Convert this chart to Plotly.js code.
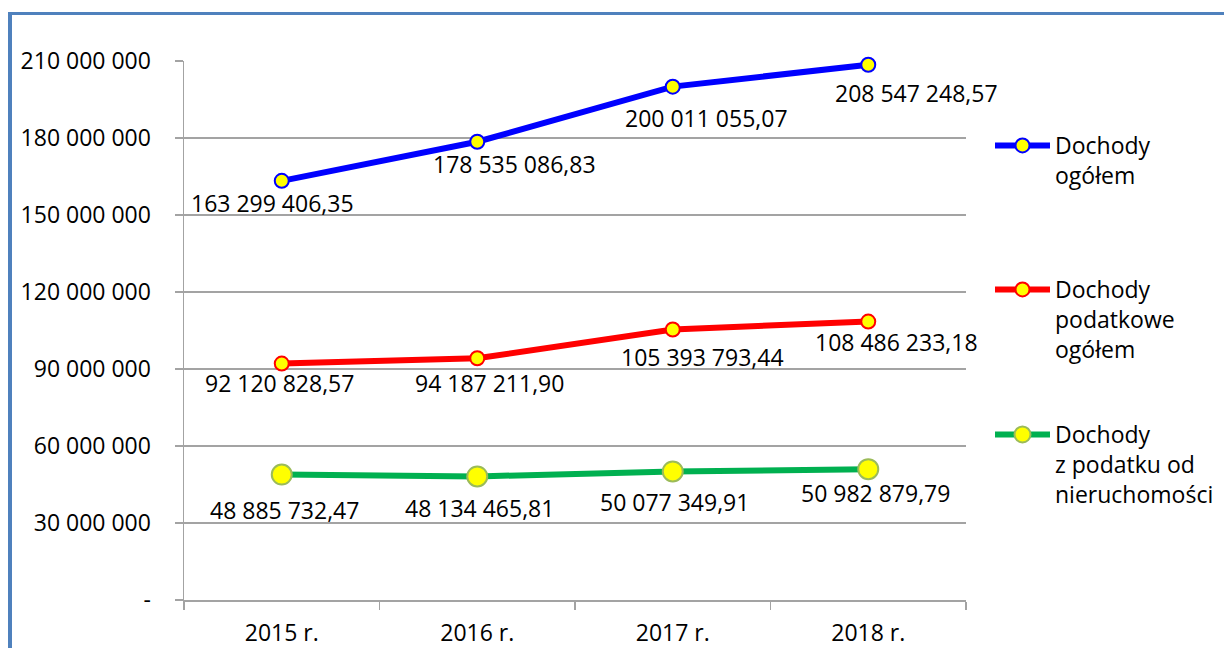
<!DOCTYPE html>
<html>
<head>
<meta charset="utf-8">
<script src="https://cdn.plot.ly/plotly-3.0.1.min.js"></script>
<style>
  html, body { margin: 0; padding: 0; background: #fff; }
  #wrap { position: relative; width: 1224px; height: 648px; overflow: hidden; }
  #chart { position: absolute; left: 0; top: 0; width: 1224px; height: 648px; }
  #frame { position: absolute; left: 8px; top: 12px; right: -10px; bottom: -10px;
           border-left: 4px solid #4F81BD; border-top: 3px solid #4F81BD; pointer-events: none; }
</style>
</head>
<body>
<div id="wrap">
  <div id="chart"></div>
  <div id="frame"></div>
</div>
<script>
// ---- data ----
const years = ["2015 r.", "2016 r.", "2017 r.", "2018 r."];
const dochodyOgolem = [163299406.35, 178535086.83, 200011055.07, 208547248.57];
const dochodyPodatkowe = [92120828.57, 94187211.90, 105393793.44, 108486233.18];
const dochodyNieruchomosci = [48885732.47, 48134465.81, 50077349.91, 50982879.79];
const seriesNames = ["Dochody<br>ogółem", "Dochody<br>podatkowe<br>ogółem", "Dochody<br>z podatku od<br>nieruchomości"];
const yTickVals = [0, 30000000, 60000000, 90000000, 120000000, 150000000, 180000000, 210000000];
const yTickText = ["-", "30 000 000", "60 000 000", "90 000 000", "120 000 000", "150 000 000", "180 000 000", "210 000 000"];

// ---- label offsets (px, styling only) ----
const offBlue  = [[-9, -22], [37, -22], [34, -31], [48, -28]];
const offRed   = [[-2, -19], [12, -25], [30, -28], [28, -20]];
const offGreen = [[3, -35], [2, -32], [2, -31], [7, -24]];

const FONT = "'Open Sans', 'Noto Sans', sans-serif";
const FS = 23;
const GRID = "#A3A3A3";

function fmtPL(v) {
  const s = v.toFixed(2).split(".");
  const intPart = s[0].replace(/\B(?=(\d{3})+(?!\d))/g, " ");
  return intPart + "," + s[1];
}

function mkTrace(vals, name, color, msize, mline, legendId) {
  return {
    x: years, y: vals, name: name, type: "scatter", mode: "lines+markers",
    line: { color: color, width: 6 },
    marker: { size: msize, color: "#FFFF00", line: { color: mline, width: 2 } },
    legend: legendId, hoverinfo: "skip", cliponaxis: false
  };
}

const traces = [
  mkTrace(dochodyOgolem, seriesNames[0], "#0000FF", 14, "#0000FF", "legend"),
  mkTrace(dochodyPodatkowe, seriesNames[1], "#FF0000", 14, "#FF0000", "legend2"),
  mkTrace(dochodyNieruchomosci, seriesNames[2], "#00B050", 20, "#9BBB59", "legend3")
];

const annotations = [];
[[dochodyOgolem, offBlue], [dochodyPodatkowe, offRed], [dochodyNieruchomosci, offGreen]].forEach(([vals, offs]) => {
  vals.forEach((v, i) => {
    annotations.push({
      x: years[i], y: v, xref: "x", yref: "y", text: fmtPL(v), showarrow: false,
      xshift: offs[i][0], yshift: offs[i][1],
      font: { family: FONT, size: FS, color: "#000" }
    });
  });
});

function legendCfg(y) {
  return {
    x: (990 - 184) / 782, xanchor: "left", y: y, yanchor: "top",
    font: { family: FONT, size: FS, color: "#000" },
    bgcolor: "rgba(0,0,0,0)", borderwidth: 0, valign: "top",
    itemwidth: 55, tracegroupgap: 0
  };
}

const layout = {
  width: 1224, height: 648,
  margin: { l: 184, r: 258, t: 61, b: 48, pad: 0, autoexpand: false },
  paper_bgcolor: "#fff", plot_bgcolor: "#fff",
  font: { family: FONT, size: FS, color: "#000" },
  showlegend: true,
  legend: legendCfg((600 - 124) / 539),
  legend2: legendCfg((600 - 268) / 539),
  legend3: legendCfg((600 - 413) / 539),
  xaxis: {
    type: "category", range: [-0.5, 3.5], tickson: "boundaries",
    ticks: "outside", ticklen: 8, tickwidth: 1.5, tickcolor: GRID,
    showline: true, linecolor: GRID, linewidth: 1.5,
    showgrid: false, zeroline: false, fixedrange: true,
    tickfont: { family: FONT, size: FS, color: "#000" }, ticklabelstandoff: 12
  },
  yaxis: {
    range: [0, 210000000], tickvals: yTickVals, ticktext: yTickText,
    ticks: "outside", ticklen: 8, tickwidth: 1.5, tickcolor: GRID,
    showline: true, linecolor: GRID, linewidth: 1.5,
    showgrid: true, gridcolor: GRID, gridwidth: 1.5, zeroline: false, fixedrange: true,
    tickfont: { family: FONT, size: FS, color: "#000" }, ticklabelstandoff: 19
  },
  annotations: annotations
};

Plotly.newPlot("chart", traces, layout, { displayModeBar: false, staticPlot: true });
</script>
</body>
</html>
